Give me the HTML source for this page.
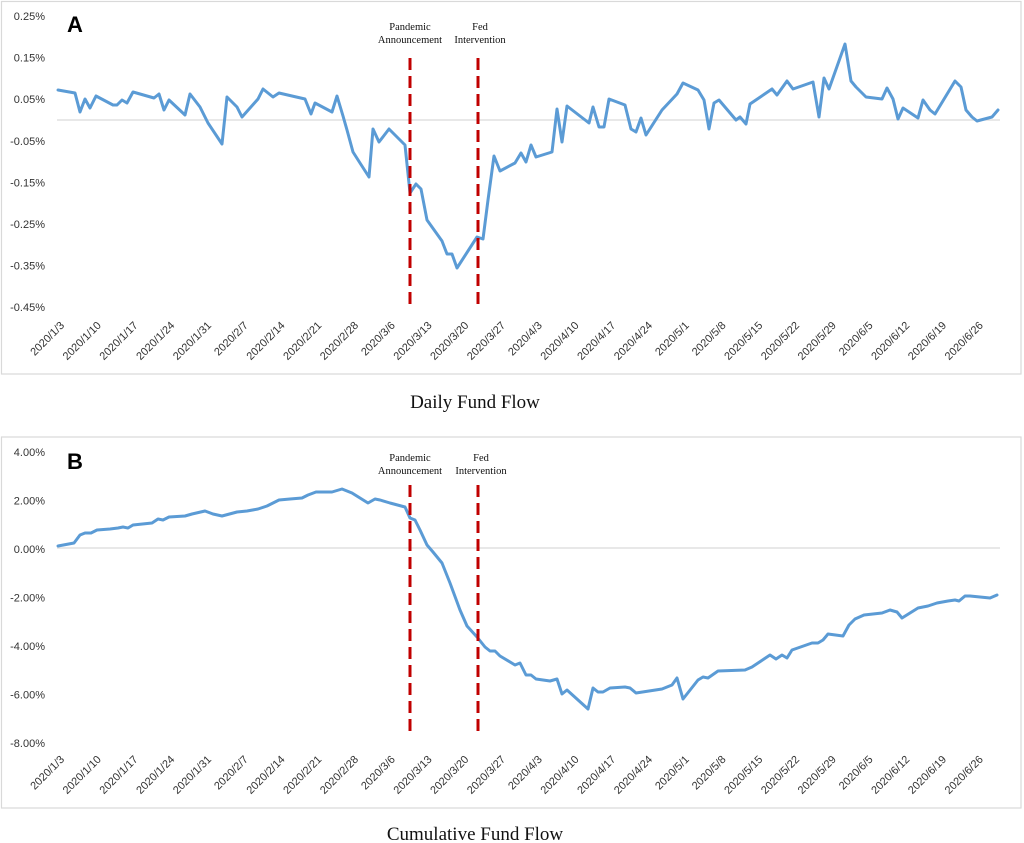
<!DOCTYPE html>
<html>
<head>
<meta charset="utf-8">
<style>
  html,body{margin:0;padding:0;background:#fff;}
  svg{display:block;}
  .yl{font-family:"Liberation Sans",Arial,sans-serif;font-size:11px;fill:#333;}
  .xl{font-family:"Liberation Sans",Arial,sans-serif;font-size:11px;fill:#333;}
  .an{font-family:"Liberation Serif","Times New Roman",serif;font-size:10.5px;fill:#111;}
  .tt{font-family:"Liberation Serif","Times New Roman",serif;font-size:19px;fill:#111;}
  .pl{font-family:"Liberation Sans",Arial,sans-serif;font-size:22px;font-weight:bold;fill:#000;}
</style>
</head>
<body>
<svg width="1024" height="843" viewBox="0 0 1024 843" xmlns="http://www.w3.org/2000/svg">
  <!-- frames -->
  <rect x="1.5" y="1.5" width="1019.5" height="372.5" fill="none" stroke="#d9d9d9" stroke-width="1.2"/>
  <rect x="1.5" y="437" width="1019.5" height="371" fill="none" stroke="#d9d9d9" stroke-width="1.2"/>

  <!-- ===== Chart A ===== -->
  <text class="pl" x="67" y="32">A</text>
  <g class="yl" text-anchor="end">
    <text x="45" y="20">0.25%</text>
    <text x="45" y="61.6">0.15%</text>
    <text x="45" y="103.2">0.05%</text>
    <text x="45" y="144.8">-0.05%</text>
    <text x="45" y="186.4">-0.15%</text>
    <text x="45" y="228">-0.25%</text>
    <text x="45" y="269.6">-0.35%</text>
    <text x="45" y="311.2">-0.45%</text>
  </g>
  <line x1="57" y1="120" x2="1000" y2="120" stroke="#d9d9d9" stroke-width="1.2"/>

  <g class="xl" text-anchor="end">
    <text transform="translate(65,326) rotate(-45)">2020/1/3</text>
    <text transform="translate(101.75,326) rotate(-45)">2020/1/10</text>
    <text transform="translate(138.5,326) rotate(-45)">2020/1/17</text>
    <text transform="translate(175.25,326) rotate(-45)">2020/1/24</text>
    <text transform="translate(212,326) rotate(-45)">2020/1/31</text>
    <text transform="translate(248.75,326) rotate(-45)">2020/2/7</text>
    <text transform="translate(285.5,326) rotate(-45)">2020/2/14</text>
    <text transform="translate(322.25,326) rotate(-45)">2020/2/21</text>
    <text transform="translate(359,326) rotate(-45)">2020/2/28</text>
    <text transform="translate(395.75,326) rotate(-45)">2020/3/6</text>
    <text transform="translate(432.5,326) rotate(-45)">2020/3/13</text>
    <text transform="translate(469.25,326) rotate(-45)">2020/3/20</text>
    <text transform="translate(506,326) rotate(-45)">2020/3/27</text>
    <text transform="translate(542.75,326) rotate(-45)">2020/4/3</text>
    <text transform="translate(579.5,326) rotate(-45)">2020/4/10</text>
    <text transform="translate(616.25,326) rotate(-45)">2020/4/17</text>
    <text transform="translate(653,326) rotate(-45)">2020/4/24</text>
    <text transform="translate(689.75,326) rotate(-45)">2020/5/1</text>
    <text transform="translate(726.5,326) rotate(-45)">2020/5/8</text>
    <text transform="translate(763.25,326) rotate(-45)">2020/5/15</text>
    <text transform="translate(800,326) rotate(-45)">2020/5/22</text>
    <text transform="translate(836.75,326) rotate(-45)">2020/5/29</text>
    <text transform="translate(873.5,326) rotate(-45)">2020/6/5</text>
    <text transform="translate(910.25,326) rotate(-45)">2020/6/12</text>
    <text transform="translate(947,326) rotate(-45)">2020/6/19</text>
    <text transform="translate(983.75,326) rotate(-45)">2020/6/26</text>
  </g>

  <polyline fill="none" stroke="#5b9bd5" stroke-width="3" stroke-linejoin="round" stroke-linecap="round"
    points="58,90 75,93 80,112 85,99 90,108 96,96 113,105 117,105 122,100 127,103 133,92 154,98 159,94 164,110 169,100 185,115 190,94 200,107 208,123 222,144 227,97 237,107 242,117 258,99 263,89 273,97 279,93 305,99 311,114 315,103 332,112 337,96 343,116 347,130 353,152 360,163 369,177 373,129 379,142 389,129 405,145 410,193 416,184 421,189 427,220 442,241 447,254 452,254 457,268 477,237 483,239 488,200 494,156 500,171 515,163 521,153 526,162 531,145 536,157 552,152 557,109 562,142 567,106 589,123 593,107 599,127 604,127 609,99 625,105 631,129 636,132 641,118 646,135 662,110 677,94 683,83 698,90 704,100 709,129 714,103 719,100 736,120 740,117 746,124 750,104 772,89 777,95 787,81 793,89 813,82 819,117 824,78 829,89 845,44 851,81 856,87 866,97 882,99 887,88 893,99 898,119 903,108 918,118 923,100 930,110 935,114 955,81 961,87 966,110 972,117 977,121 992,117 998,110"/>

  <line x1="410" y1="58" x2="410" y2="307" stroke="#c00000" stroke-width="3" stroke-dasharray="12,6"/>
  <line x1="478" y1="58" x2="478" y2="307" stroke="#c00000" stroke-width="3" stroke-dasharray="12,6"/>
  <g class="an" text-anchor="middle">
    <text x="410" y="30">Pandemic</text>
    <text x="410" y="43">Announcement</text>
    <text x="480" y="30">Fed</text>
    <text x="480" y="43">Intervention</text>
  </g>

  <text class="tt" x="475" y="408" text-anchor="middle">Daily Fund Flow</text>

  <!-- ===== Chart B ===== -->
  <text class="pl" x="67" y="469">B</text>
  <g class="yl" text-anchor="end">
    <text x="45" y="456">4.00%</text>
    <text x="45" y="504.5">2.00%</text>
    <text x="45" y="553">0.00%</text>
    <text x="45" y="601.5">-2.00%</text>
    <text x="45" y="650">-4.00%</text>
    <text x="45" y="698.5">-6.00%</text>
    <text x="45" y="747">-8.00%</text>
  </g>
  <line x1="57" y1="548" x2="1000" y2="548" stroke="#d9d9d9" stroke-width="1.2"/>

  <g class="xl" text-anchor="end">
    <text transform="translate(65,760) rotate(-45)">2020/1/3</text>
    <text transform="translate(101.75,760) rotate(-45)">2020/1/10</text>
    <text transform="translate(138.5,760) rotate(-45)">2020/1/17</text>
    <text transform="translate(175.25,760) rotate(-45)">2020/1/24</text>
    <text transform="translate(212,760) rotate(-45)">2020/1/31</text>
    <text transform="translate(248.75,760) rotate(-45)">2020/2/7</text>
    <text transform="translate(285.5,760) rotate(-45)">2020/2/14</text>
    <text transform="translate(322.25,760) rotate(-45)">2020/2/21</text>
    <text transform="translate(359,760) rotate(-45)">2020/2/28</text>
    <text transform="translate(395.75,760) rotate(-45)">2020/3/6</text>
    <text transform="translate(432.5,760) rotate(-45)">2020/3/13</text>
    <text transform="translate(469.25,760) rotate(-45)">2020/3/20</text>
    <text transform="translate(506,760) rotate(-45)">2020/3/27</text>
    <text transform="translate(542.75,760) rotate(-45)">2020/4/3</text>
    <text transform="translate(579.5,760) rotate(-45)">2020/4/10</text>
    <text transform="translate(616.25,760) rotate(-45)">2020/4/17</text>
    <text transform="translate(653,760) rotate(-45)">2020/4/24</text>
    <text transform="translate(689.75,760) rotate(-45)">2020/5/1</text>
    <text transform="translate(726.5,760) rotate(-45)">2020/5/8</text>
    <text transform="translate(763.25,760) rotate(-45)">2020/5/15</text>
    <text transform="translate(800,760) rotate(-45)">2020/5/22</text>
    <text transform="translate(836.75,760) rotate(-45)">2020/5/29</text>
    <text transform="translate(873.5,760) rotate(-45)">2020/6/5</text>
    <text transform="translate(910.25,760) rotate(-45)">2020/6/12</text>
    <text transform="translate(947,760) rotate(-45)">2020/6/19</text>
    <text transform="translate(983.75,760) rotate(-45)">2020/6/26</text>
  </g>

  <polyline fill="none" stroke="#5b9bd5" stroke-width="3" stroke-linejoin="round" stroke-linecap="round"
    points="58,546 74,543 80,535 85,533 91,533 97,530 110,529 118,528 123,527 128,528 133,525 152,523 158,519 163,520 169,517 185,516 192,514 205,511 213,514 222,516 237,512 247,511 258,509 267,506 279,500 290,499 302,498 308,495 316,492 332,492 342,489 352,493 360,498 368,503 375,499 380,500 390,503 405,507 410,518 415,520 420,530 427,545 433,552 442,563 450,583 460,610 467,626 477,637 485,647 490,651 495,651 500,656 515,665 520,663 526,675 531,675 536,679 550,681 557,679 562,694 567,690 588,709 593,688 598,692 603,692 610,688 625,687 630,688 636,693 662,689 672,685 677,678 683,699 698,680 703,677 708,678 718,671 745,670 752,667 770,655 776,659 782,655 787,658 792,650 812,643 818,643 823,640 828,634 843,636 849,625 855,619 864,615 882,613 890,610 897,612 902,618 918,608 928,606 937,603 948,601 955,600 959,601 965,596 970,596 990,598 997,595"/>

  <line x1="410" y1="485" x2="410" y2="734" stroke="#c00000" stroke-width="3" stroke-dasharray="12,6"/>
  <line x1="478" y1="485" x2="478" y2="734" stroke="#c00000" stroke-width="3" stroke-dasharray="12,6"/>
  <g class="an" text-anchor="middle">
    <text x="410" y="461">Pandemic</text>
    <text x="410" y="474">Announcement</text>
    <text x="481" y="461">Fed</text>
    <text x="481" y="474">Intervention</text>
  </g>

  <text class="tt" x="475" y="840" text-anchor="middle">Cumulative Fund Flow</text>
</svg>
</body>
</html>
